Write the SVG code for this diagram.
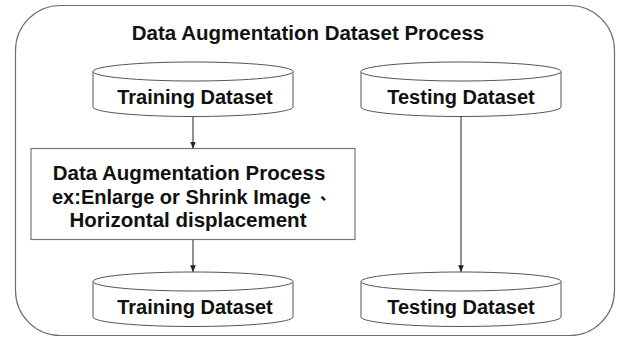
<svg xmlns="http://www.w3.org/2000/svg" width="618" height="338" viewBox="0 0 618 338">
  <style>
    .frame { fill: #ffffff; stroke: #6e6e6e; stroke-width: 1.2; }
    .cyl { fill: #ffffff; stroke: #555555; stroke-width: 1; }
    .box { fill: #ffffff; stroke: #777777; stroke-width: 1.2; }
    .lbl { font-family: "Liberation Sans", Arial, sans-serif; font-weight: bold; font-size: 20px; fill: #111111; text-anchor: middle; }
    .big { font-size: 20.5px; }
    .left { text-anchor: start; }
    .edge { stroke: #222222; stroke-width: 1; fill: none; marker-end: url(#arrow); }
  </style>
  <defs>
    <marker id="arrow" viewBox="0 0 10 10" refX="9" refY="5" markerWidth="7" markerHeight="7" markerUnits="userSpaceOnUse" orient="auto">
      <path d="M0,1 L10,5 L0,9 z" fill="#222222"/>
    </marker>
    <!-- cylinder shape, 200 wide, origin at top-centre -->
    <g id="cylinder">
      <path class="cyl" d="M-100,9.5 L-100,45 A100,9.5 0 0 0 100,45 L100,9.5"/>
      <ellipse class="cyl" cx="0" cy="9.5" rx="100" ry="9.5"/>
    </g>
  </defs>

  <rect width="618" height="338" fill="#ffffff"/>

  <g id="container">
    <rect class="frame" x="15.5" y="5.5" width="599" height="330" rx="45" ry="45"/>
    <text class="lbl big" x="308" y="40">Data Augmentation Dataset Process</text>
  </g>

  <g id="training-dataset-in">
    <use href="#cylinder" x="193" y="62"/>
    <text class="lbl" x="195" y="104">Training Dataset</text>
  </g>

  <g id="testing-dataset-in">
    <use href="#cylinder" x="461" y="62"/>
    <text class="lbl" x="461" y="104">Testing Dataset</text>
  </g>

  <g id="augmentation-process">
    <rect class="box" x="31" y="148.5" width="324" height="91"/>
    <text class="lbl big" x="189" y="180">Data Augmentation Process</text>
    <text class="lbl left" x="52" y="204">ex:Enlarge or Shrink Image<tspan x="320" dy="-4" font-size="16" font-family="'Noto Sans CJK SC', sans-serif">、</tspan></text>
    <text class="lbl big" x="188" y="227" fill="#2a2a2a">Horizontal displacement</text>
  </g>

  <g id="training-dataset-out">
    <use href="#cylinder" x="193" y="272"/>
    <text class="lbl" x="195" y="314">Training Dataset</text>
  </g>

  <g id="testing-dataset-out">
    <use href="#cylinder" x="461" y="272"/>
    <text class="lbl" x="461" y="314">Testing Dataset</text>
  </g>

  <g id="connectors">
    <line class="edge" x1="193" y1="117" x2="193" y2="148"/>
    <line class="edge" x1="193" y1="240" x2="193" y2="271.5"/>
    <line class="edge" x1="461" y1="116.5" x2="461" y2="271.5"/>
  </g>
</svg>
